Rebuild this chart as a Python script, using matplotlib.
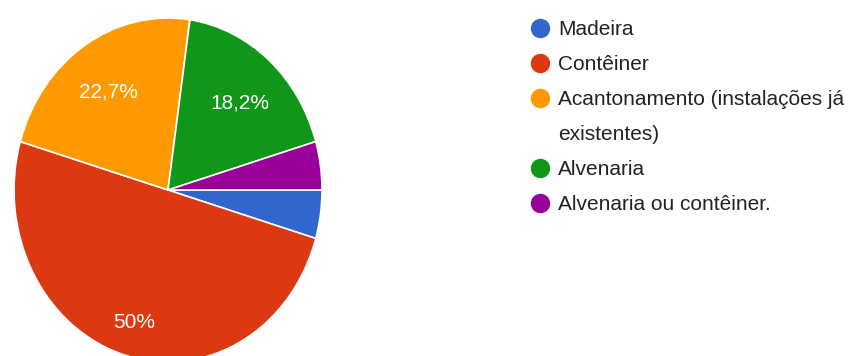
import matplotlib
matplotlib.use("Agg")
import matplotlib.pyplot as plt
import numpy as np

categories = ["Madeira", "Contêiner", "Acantonamento (instalações já\nexistentes)",
              "Alvenaria", "Alvenaria ou contêiner."]
values = [1, 11, 5, 4, 1]
colors = ["#3366cc", "#dc3912", "#ff9900", "#109618", "#990099"]

plt.rcParams['font.family'] = ['Liberation Sans', 'DejaVu Sans']

W, H = 854, 356
fig = plt.figure(figsize=(W / 100, H / 100), dpi=100)

# pie axes (pixel geometry: centre 168,190 ; rx 154 ; ry 172)
cx, cy, rx, ry = 168, 190, 154, 172
ax = fig.add_axes([(cx - rx) / W, (H - (cy + ry)) / H, 2 * rx / W, 2 * ry / H])


def fmt(p):
    if p < 8:
        return ""
    if abs(p - round(p)) < 0.05:
        return f"{p:.0f}%"
    return f"{p:.1f}%".replace(".", ",")


wedges, texts, autotexts = ax.pie(
    values, colors=colors, startangle=0, counterclock=False,
    autopct=fmt, pctdistance=0.72, radius=1.0,
    wedgeprops=dict(edgecolor="white", linewidth=1.2),
    textprops=dict(color="white", fontsize=15))
ax.set_aspect('auto')
ax.set_xlim(-1, 1)
ax.set_ylim(-1, 1)
ax.axis('off')

# nudge labels slightly (larger slice label sits further out)
for w, t in zip(wedges, autotexts):
    ang = np.deg2rad((w.theta1 + w.theta2) / 2)
    frac = (w.theta2 - w.theta1) / 360
    r = 0.77 if frac > 0.4 else 0.71
    t.set_position((r * np.cos(ang), r * np.sin(ang) - 0.03))

# legend axes in pixel units
lx0 = 520
lax = fig.add_axes([lx0 / W, 0, (W - lx0) / W, 1])
lax.set_xlim(0, W - lx0)
lax.set_ylim(H, 0)
lax.axis('off')

row = 0
y0, step = 28, 35
for lab, col in zip(categories, colors):
    y = y0 + step * row
    lax.plot([540 - lx0], [y], marker='o', markersize=14, color=col,
             markeredgewidth=0, linestyle='none')
    for i, line in enumerate(lab.split("\n")):
        lax.text(558 - lx0, y + step * i + 7, line, fontsize=15,
                 color="#222222", va='baseline', ha='left')
    row += len(lab.split("\n"))

fig.savefig("out.png", dpi=100, facecolor="white")
